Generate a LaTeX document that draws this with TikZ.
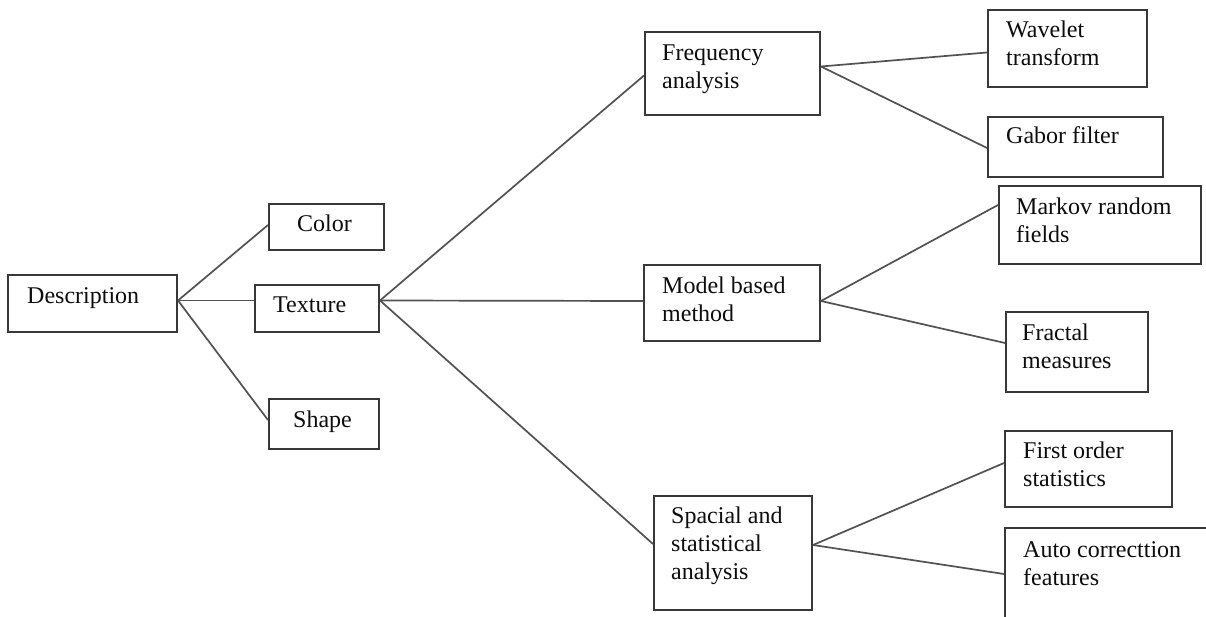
\documentclass[tikz,border=0pt]{standalone}
\usepackage{fontspec}
\setmainfont{Liberation Serif}
\usetikzlibrary{calc}
\begin{document}
\begin{tikzpicture}[x=1pt,y=-1pt,
  box/.style={draw=black!78, line width=2pt, fill=none, inner sep=0pt, anchor=north west},
  lbl/.style={anchor=north west, inner sep=0pt, align=left, text=black!95, font=\fontsize{24}{28}\selectfont},
  conn/.style={draw=black!68, line width=1.7pt}]
\useasboundingbox (0,0) rectangle (1206,617);
\fill[white] (0,0) rectangle (1206,617);
\clip (0,0) rectangle (1206,617);
% boxes
\node[box, minimum width=169pt, minimum height=57pt] (desc) at (7,274) {};
\node[box, minimum width=115pt, minimum height=46pt] (color) at (268,203) {};
\node[box, minimum width=124pt, minimum height=47pt] (texture) at (254,284) {};
\node[box, minimum width=110pt, minimum height=50pt] (shape) at (268,398) {};
\node[box, minimum width=175pt, minimum height=83pt] (freq) at (644,31) {};
\node[box, minimum width=176pt, minimum height=76pt] (model) at (643,264) {};
\node[box, minimum width=158pt, minimum height=114pt] (spacial) at (653,495) {};
\node[box, minimum width=159pt, minimum height=77pt] (wavelet) at (987,9) {};
\node[box, minimum width=175pt, minimum height=60pt] (gabor) at (987,116) {};
\node[box, minimum width=202pt, minimum height=78pt] (markov) at (998,185) {};
\node[box, minimum width=142pt, minimum height=80pt] (fractal) at (1005,311) {};
\node[box, minimum width=167pt, minimum height=76pt] (first) at (1004,430) {};
\node[box, minimum width=216pt, minimum height=113pt] (auto) at (1004,527) {};
% labels
\node[lbl] (descT) at ($(desc.north west)+(20,9.5)$) {\strut Description};
\node[lbl] (colorT) at ($(color.north west)+(29,8.5)$) {\strut Color};
\node[lbl] (textureT) at ($(texture.north west)+(19,8.5)$) {\strut Texture};
\node[lbl] (shapeT) at ($(shape.north west)+(25,9.5)$) {\strut Shape};
\node[lbl] (freqT) at ($(freq.north west)+(18,10)$) {\strut Frequency\\analysis};
\node[lbl] (modelT) at ($(model.north west)+(19,9.5)$) {\strut Model based\\method};
\node[lbl] (spacialT) at ($(spacial.north west)+(18,8.5)$) {\strut Spacial and\\statistical\\analysis};
\node[lbl] (waveletT) at ($(wavelet.north west)+(19,8.5)$) {\strut Wavelet\\transform};
\node[lbl] (gaborT) at ($(gabor.north west)+(19,7.5)$) {\strut Gabor filter};
\node[lbl] (markovT) at ($(markov.north west)+(18,9.5)$) {\strut Markov random\\fields};
\node[lbl] (fractalT) at ($(fractal.north west)+(17,9.5)$) {\strut Fractal\\measures};
\node[lbl] (firstT) at ($(first.north west)+(19,8.5)$) {\strut First order\\statistics};
\node[lbl] (autoT) at ($(auto.north west)+(19,10.5)$) {\strut Auto correcttion\\features};
% connectors
\draw[conn] ([yshift=3pt]desc.east) -- ([yshift=2pt]color.west);
\draw[conn] ([yshift=3pt]desc.east) -- ([yshift=8pt]texture.west);
\draw[conn] ([yshift=3pt]desc.east) -- ([yshift=4pt]shape.west);
\draw[conn] ([yshift=8pt]texture.east) -- ([yshift=-2pt]freq.west);
\draw[conn] ([yshift=8pt]texture.east) -- ([yshift=2pt]model.west);
\draw[conn] ([yshift=8pt]texture.east) -- ([yshift=9pt]spacial.west);
\draw[conn] ([yshift=7pt]freq.east) -- ([yshift=-4pt]wavelet.west);
\draw[conn] ([yshift=7pt]freq.east) -- ([yshift=-1pt]gabor.west);
\draw[conn] ([yshift=2pt]model.east) -- ([yshift=20pt]markov.west);
\draw[conn] ([yshift=2pt]model.east) -- ([yshift=9pt]fractal.west);
\draw[conn] ([yshift=8pt]spacial.east) -- ([yshift=6pt]first.west);
\draw[conn] ([yshift=8pt]spacial.east) -- ([yshift=-47pt]auto.north west);
\end{tikzpicture}
\end{document}
